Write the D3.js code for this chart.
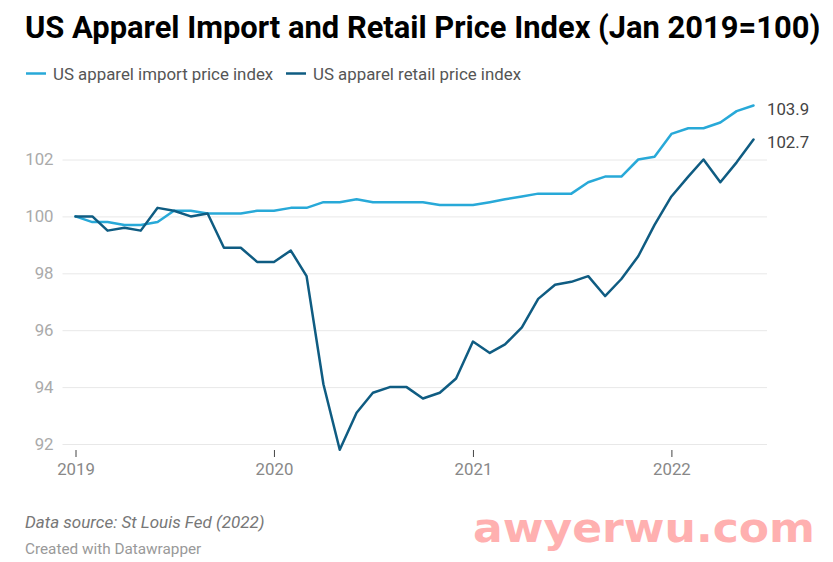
<!DOCTYPE html>
<html>
<head>
<meta charset="utf-8">
<script src="https://cdnjs.cloudflare.com/ajax/libs/d3/7.8.5/d3.min.js"></script>
<style>
    html, body { margin: 0; padding: 0; background: #fff; }
    svg { display: block; font-family: Roboto, sans-serif; }
</style>
</head>
<body>
<div id="chart"></div>
<script>
const months = d3.utcMonth.range(new Date(Date.UTC(2019, 0, 1)), new Date(Date.UTC(2022, 6, 1)));
const importIndex = [
    100, 99.8, 99.8, 99.7, 99.7, 99.8, 100.2, 100.2, 100.1, 100.1, 100.1, 100.2,
    100.2, 100.3, 100.3, 100.5, 100.5, 100.6, 100.5, 100.5, 100.5, 100.5, 100.4, 100.4,
    100.4, 100.5, 100.6, 100.7, 100.8, 100.8, 100.8, 101.2, 101.4, 101.4, 102.0, 102.1,
    102.9, 103.1, 103.1, 103.3, 103.7, 103.9
];
const retailIndex = [
    100, 100, 99.5, 99.6, 99.5, 100.3, 100.2, 100, 100.1, 98.9, 98.9, 98.4,
    98.4, 98.8, 97.9, 94.1, 91.8, 93.1, 93.8, 94, 94, 93.6, 93.8, 94.3,
    95.6, 95.2, 95.5, 96.1, 97.1, 97.6, 97.7, 97.9, 97.2, 97.8, 98.6, 99.7,
    100.7, 101.4, 102, 101.2, 101.9, 102.7
];
const yTicks = [92, 94, 96, 98, 100, 102];
const xTicks = [2019, 2020, 2021, 2022];

const importColor = "#28a9d8";
const retailColor = "#0f5c82";

const width = 833;
const height = 562;

const svg = d3.select("#chart").append("svg")
    .attr("width", width)
    .attr("height", height);

const x = d3.scaleUtc()
    .domain([months[0], months[months.length - 1]])
    .range([75.5, 753.5]);
const y = d3.scaleLinear()
    .domain([92, 102])
    .range([444, 159.5]);

svg.append("text")
    .attr("x", 25)
    .attr("y", 38)
    .attr("font-size", 30.9)
    .attr("font-weight", 700)
    .attr("fill", "#000")
    .text("US Apparel Import and Retail Price Index (Jan 2019=100)");

// legend
const legend = [
    { label: "US apparel import price index", color: importColor, x: 25 },
    { label: "US apparel retail price index", color: retailColor, x: 285 }
];
legend.forEach(d => {
    svg.append("line")
        .attr("x1", d.x + 1).attr("x2", d.x + 21)
        .attr("y1", 73.5).attr("y2", 73.5)
        .attr("stroke", d.color)
        .attr("stroke-width", 2.5);
    svg.append("text")
        .attr("x", d.x + 28)
        .attr("y", 80)
        .attr("font-size", 16.85)
        .attr("fill", "#555")
        .text(d.label);
});

// grid and y labels
const yAxis = svg.append("g")
    .attr("transform", "translate(62.5,0)")
    .call(d3.axisLeft(y).tickValues(yTicks).tickSize(-704.5).tickPadding(9));
yAxis.select(".domain").remove();
yAxis.selectAll(".tick line").attr("stroke", "#e8e8e8").attr("stroke-width", 1);
yAxis.selectAll(".tick text")
    .attr("font-family", "Roboto, sans-serif")
    .attr("font-size", 16.8)
    .attr("fill", "#aaa");

// x axis
const xAxis = svg.append("g")
    .attr("transform", "translate(0,450)")
    .call(d3.axisBottom(x)
        .tickValues(xTicks.map(d => new Date(Date.UTC(d, 0, 1))))
        .tickFormat(d3.utcFormat("%Y"))
        .tickSize(7)
        .tickPadding(6));
xAxis.select(".domain").remove();
xAxis.selectAll(".tick line").attr("stroke", "#444").attr("stroke-width", 1);
xAxis.selectAll(".tick text")
    .attr("font-family", "Roboto, sans-serif")
    .attr("font-size", 16.8)
    .attr("fill", "#888");

const line = d3.line()
    .x((d, i) => x(months[i]))
    .y(d => y(d));

[
    { values: importIndex, color: importColor },
    { values: retailIndex, color: retailColor }
].forEach(s => {
    svg.append("path")
        .attr("d", line(s.values))
        .attr("fill", "none")
        .attr("stroke", s.color)
        .attr("stroke-width", 2.5)
        .attr("stroke-linejoin", "round")
        .attr("stroke-linecap", "round");
    const last = s.values[s.values.length - 1];
    svg.append("text")
        .attr("x", 767)
        .attr("y", s.values === importIndex ? 114.5 : 147.5)
        .attr("font-size", 16.8)
        .attr("fill", "#444")
        .text(d3.format(".1f")(last));
});

// footer
svg.append("text")
    .attr("x", 25)
    .attr("y", 528)
    .attr("font-size", 17)
    .attr("font-style", "italic")
    .attr("fill", "#777")
    .text("Data source: St Louis Fed (2022)");
svg.append("text")
    .attr("x", 25)
    .attr("y", 553.5)
    .attr("font-size", 15.3)
    .attr("fill", "#999")
    .text("Created with Datawrapper");

// watermark
svg.append("text")
    .attr("x", 473)
    .attr("y", 541.5)
    .attr("font-family", "'DejaVu Sans', sans-serif")
    .attr("font-size", 40)
    .attr("font-weight", 700)
    .attr("fill", "#ffb0b0")
    .attr("textLength", 342)
    .attr("lengthAdjust", "spacingAndGlyphs")
    .text("awyerwu.com");
</script>
</body>
</html>
